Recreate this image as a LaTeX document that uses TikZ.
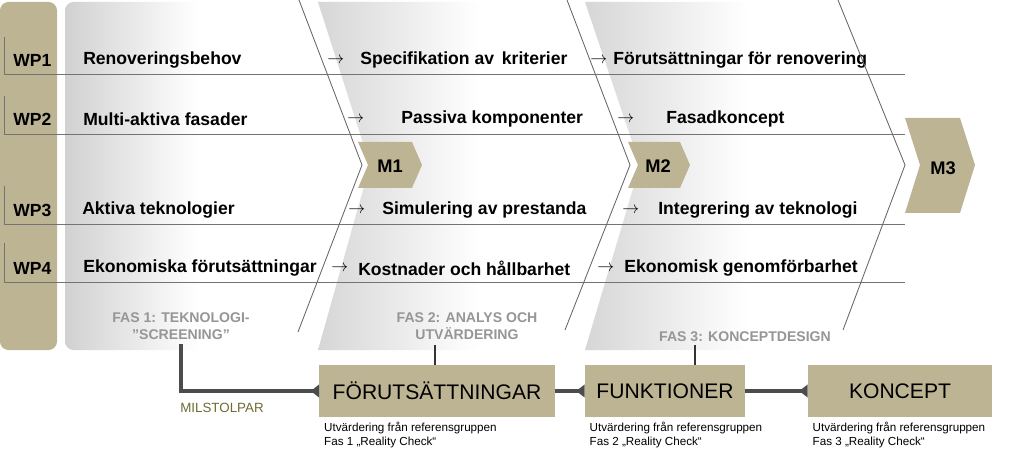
\documentclass[tikz,border=0pt]{standalone}
\usepackage{fontspec}
\setmainfont{Liberation Sans}
\usetikzlibrary{arrows.meta}
\definecolor{tan}{RGB}{189,180,148}
\definecolor{olive}{RGB}{110,108,50}
\definecolor{fasgray}{RGB}{150,150,150}
\tikzset{
  wp/.style = {anchor=west, inner sep=0pt, font=\fontsize{12.5}{14}\selectfont\bfseries},
  task/.style = {anchor=west, inner sep=0pt, font=\fontsize{12.5}{14}\selectfont\bfseries},
  fas/.style = {align=center, text=fasgray, font=\fontsize{10}{12}\selectfont\bfseries},
  gate/.style = {fill=tan, draw=none, minimum height=37pt, font=\fontsize{15}{17}\selectfont},
  note/.style = {anchor=north west, align=left, font=\fontsize{8.3}{10}\selectfont},
  link/.style = {line width=2.5pt, draw=black!70},
  phase/.style = {draw=black!60, line width=0.6pt},
  mile/.style = {font=\fontsize{13}{15}\selectfont\bfseries}}

\begin{document}
\begin{tikzpicture}[x=0.025cm,y=-0.025cm]
  \useasboundingbox (0,0) rectangle (1024,451);
  % panels
  \fill[tan,rounded corners=6pt] (0,2) rectangle (57,350);
  \shade[left color=black!18,right color=white,middle color=white,rounded corners=6pt] (65,2) rectangle (330,350);
  \shade[left color=black!16,right color=white,middle color=white] (318,2) -- (580,2) -- (640,165) -- (580,350) -- (318,350) -- (370,165) -- cycle;
  \shade[left color=black!16,right color=white,middle color=white] (585,2) -- (850,2) -- (910,165) -- (850,350) -- (585,350) -- (640,165) -- cycle;

  % rows
  \foreach \y/\t in {74/37,134/96,224/186,282/243}
    \draw[black!55] (4,\t) -- (4,\y) -- (905,\y);

  \node[wp] (wp1) at (13,60) {WP1};
  \node[wp] (wp2) at (13,119) {WP2};
  \node[wp] (wp3) at (13,210) {WP3};
  \node[wp] (wp4) at (13,268) {WP4};

  \node[task] (a1) at (83,60) {Renoveringsbehov};
  \node[task] (a2) at (83,119) {Multi-aktiva fasader};
  \node[task] (a3) at (82,210) {Aktiva teknologier};
  \node[task] (a4) at (83,268) {Ekonomiska förutsättningar};

  \node[task] (ab1) at (327,60) {$\rightarrow$};
  \node[task] (ab2) at (347,119) {$\rightarrow$};
  \node[task] (ab3) at (348,210) {$\rightarrow$};
  \node[task] (ab4) at (331,268) {$\rightarrow$};
  \node[task] (b1) at (360,60) {Specifikation av\, kriterier};
  \node[task] (b2) at (401,119) {Passiva komponenter};
  \node[task] (b3) at (382,210) {Simulering av prestanda};
  \node[task] (b4) at (358,268) {Kostnader och hållbarhet};

  \node[task] (ac1) at (590,60) {$\rightarrow$};
  \node[task] (ac2) at (617,119) {$\rightarrow$};
  \node[task] (ac3) at (622,210) {$\rightarrow$};
  \node[task] (ac4) at (597,268) {$\rightarrow$};
  \node[task] (c1) at (613,60) {Förutsättningar för renovering};
  \node[task] (c2) at (666,119) {Fasadkoncept};
  \node[task] (c3) at (658,210) {Integrering av teknologi};
  \node[task] (c4) at (624,268) {Ekonomisk genomförbarhet};

  % phase borders
  \draw[phase] (299,0) -- (362,165) -- (298,332);
  \draw[phase] (567,0) -- (630,165) -- (565,330);
  \draw[phase] (838,0) -- (905,165) -- (843,330);

  % milestones
  \fill[tan] (358,142) -- (412,142) -- (422,165) -- (412,188) -- (358,188) -- (368,165) -- cycle;
  \node[mile] (m1) at (390,166) {M1};
  \fill[tan] (628,142) -- (680,142) -- (690,165) -- (680,188) -- (628,188) -- (638,165) -- cycle;
  \node[mile] (m2) at (658,166) {M2};
  \fill[tan] (905,118) -- (960,118) -- (975,165) -- (960,213) -- (905,213) -- (920,165) -- cycle;
  \node[mile] (m3) at (943,168) {M3};

  % phase labels
  \node[fas] (f1) at (181,326) {FAS 1: TEKNOLOGI-\\"SCREENING"};
  \node[fas] (f2) at (467,326) {FAS 2: ANALYS OCH\\UTVÄRDERING};
  \node[fas] (f3) at (745,337) {FAS 3: KONCEPTDESIGN};
  \coordinate (t2) at (435,345);
  \coordinate (t3) at (695,345);

  % gates
  \node[gate, minimum width=5.875cm] (g1) at (437,391) {FÖRUTSÄTTNINGAR};
  \node[gate, minimum width=4cm] (g2) at (665,391) {FUNKTIONER};
  \node[gate, minimum width=4.6cm] (g3) at (900,391) {KONCEPT};
  \node[note] (n1) at (g1.south west) {Utvärdering från referensgruppen\\Fas 1 „Reality Check“};
  \node[note] (n2) at (g2.south west) {Utvärdering från referensgruppen\\Fas 2 „Reality Check“};
  \node[note] (n3) at (g3.south west) {Utvärdering från referensgruppen\\Fas 3 „Reality Check“};
  \node[text=olive, font=\fontsize{9.5}{12}\selectfont] (ms) at (222,408) {MILSTOLPAR};

  \draw[link,{Triangle[reversed,length=6pt,width=9pt]}-] (g1.west) -| (f1.south);
  \draw[link,{Triangle[reversed,length=6pt,width=9pt]}-] (g2.west) -- (g1.east);
  \draw[link,{Triangle[reversed,length=6pt,width=9pt]}-] (g3.west) -- (g2.east);
  \draw[black!80, line width=1pt] (t2) -- (t2 |- g1.north);
  \draw[black!80, line width=1pt] (t3) -- (t3 |- g2.north);
\end{tikzpicture}
\end{document}
